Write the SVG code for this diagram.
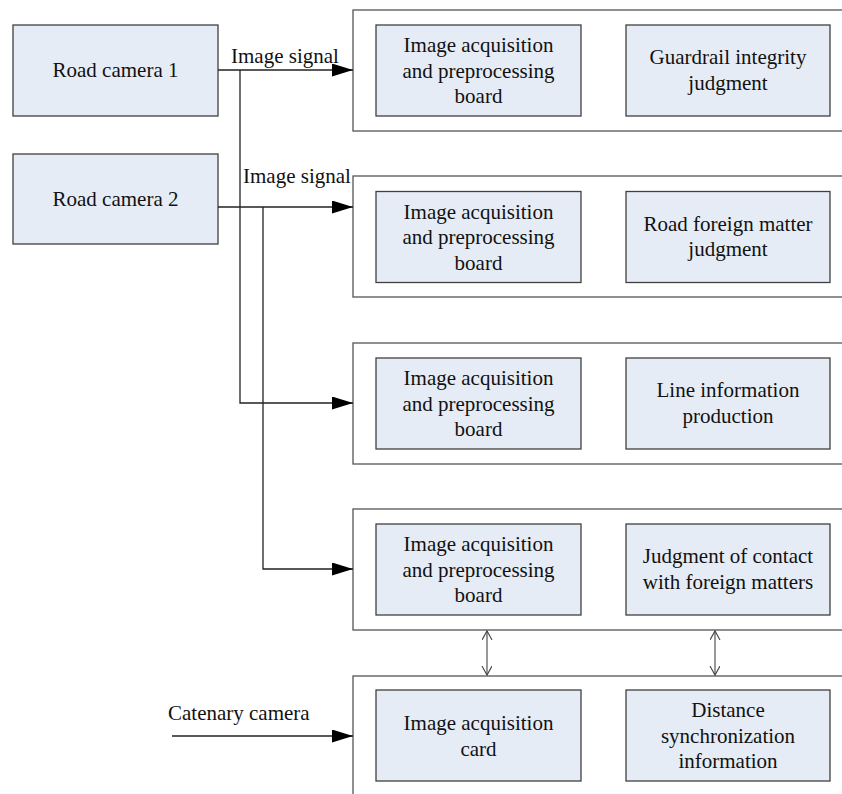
<svg xmlns="http://www.w3.org/2000/svg" width="842" height="794" viewBox="0 0 842 794">
<style>
.box{fill:#e6ecf6;stroke:#404040;stroke-width:1.3}
.cont{fill:#ffffff;stroke:#555555;stroke-width:1.3}
.t{font-family:"Liberation Serif","Times New Roman",serif;font-size:21px;fill:#111111;text-anchor:middle}
.tl{font-family:"Liberation Serif","Times New Roman",serif;font-size:21px;fill:#111111}
.ln{fill:none;stroke:#222222;stroke-width:1.3}
.bi{fill:none;stroke:#444444;stroke-width:1.1}
</style>
<defs>
<marker id="fa" markerUnits="userSpaceOnUse" markerWidth="22" markerHeight="14" refX="21" refY="6.5" orient="auto">
<path d="M0,0 L21,6.5 L0,13 Z" fill="#000000"/>
</marker>
<marker id="oa" markerUnits="userSpaceOnUse" markerWidth="12" markerHeight="12" refX="9" refY="5" orient="auto-start-reverse">
<path d="M0,0 L9,5 L0,10" fill="none" stroke="#444444" stroke-width="1.1"/>
</marker>
</defs>
<g id="cam1"><rect class="box" x="13" y="25" width="205" height="91"/><text class="t" x="115.5" y="77">Road camera 1</text></g>
<g id="cam2"><rect class="box" x="13" y="154" width="205" height="90"/><text class="t" x="115.5" y="206">Road camera 2</text></g>
<g id="c1">
<rect class="cont" x="353" y="10" width="520" height="121"/>
<rect class="box" x="376" y="25" width="205" height="91"/>
<text class="t" x="478.5" y="52">Image acquisition<tspan x="478.5" dy="25.5">and preprocessing</tspan><tspan x="478.5" dy="25.5">board</tspan></text>
<rect class="box" x="626" y="25" width="204" height="91"/>
<text class="t" x="728" y="64">Guardrail integrity<tspan x="728" dy="25.5">judgment</tspan></text>
</g>
<g id="c2">
<rect class="cont" x="353" y="176" width="520" height="121"/>
<rect class="box" x="376" y="191.5" width="205" height="91"/>
<text class="t" x="478.5" y="218.5">Image acquisition<tspan x="478.5" dy="25.5">and preprocessing</tspan><tspan x="478.5" dy="25.5">board</tspan></text>
<rect class="box" x="626" y="191.5" width="204" height="91"/>
<text class="t" x="728" y="230.5">Road foreign matter<tspan x="728" dy="25.5">judgment</tspan></text>
</g>
<g id="c3">
<rect class="cont" x="353" y="343" width="520" height="121"/>
<rect class="box" x="376" y="358" width="205" height="91"/>
<text class="t" x="478.5" y="385">Image acquisition<tspan x="478.5" dy="25.5">and preprocessing</tspan><tspan x="478.5" dy="25.5">board</tspan></text>
<rect class="box" x="626" y="358" width="204" height="91"/>
<text class="t" x="728" y="397">Line information<tspan x="728" dy="25.5">production</tspan></text>
</g>
<g id="c4">
<rect class="cont" x="353" y="509" width="520" height="121"/>
<rect class="box" x="376" y="524" width="205" height="91"/>
<text class="t" x="478.5" y="551">Image acquisition<tspan x="478.5" dy="25.5">and preprocessing</tspan><tspan x="478.5" dy="25.5">board</tspan></text>
<rect class="box" x="626" y="524" width="204" height="91"/>
<text class="t" x="728" y="563">Judgment of contact<tspan x="728" dy="25.5">with foreign matters</tspan></text>
</g>
<g id="c5">
<rect class="cont" x="353" y="676" width="520" height="130"/>
<rect class="box" x="376" y="690" width="205" height="91"/>
<text class="t" x="478.5" y="730">Image acquisition<tspan x="478.5" dy="25.5">card</tspan></text>
<rect class="box" x="626" y="690" width="204" height="91"/>
<text class="t" x="728" y="717">Distance<tspan x="728" dy="25.5">synchronization</tspan><tspan x="728" dy="25.5">information</tspan></text>
</g>
<g id="connectors">
<path class="ln" d="M218,70 L353,70" marker-end="url(#fa)"/>
<path class="ln" d="M240,70 L240,403 L353,403" marker-end="url(#fa)"/>
<path class="ln" d="M218,207 L353,207" marker-end="url(#fa)"/>
<path class="ln" d="M263,207 L263,569 L353,569" marker-end="url(#fa)"/>
<path class="ln" d="M172,736 L353,736" marker-end="url(#fa)"/>
<path class="bi" d="M487,631 L487,675" marker-start="url(#oa)" marker-end="url(#oa)"/>
<path class="bi" d="M715,631 L715,675" marker-start="url(#oa)" marker-end="url(#oa)"/>
<text class="tl" x="231" y="63">Image signal</text>
<text class="tl" x="243" y="183">Image signal</text>
<text class="tl" x="168" y="720">Catenary camera</text>
</g>
</svg>
